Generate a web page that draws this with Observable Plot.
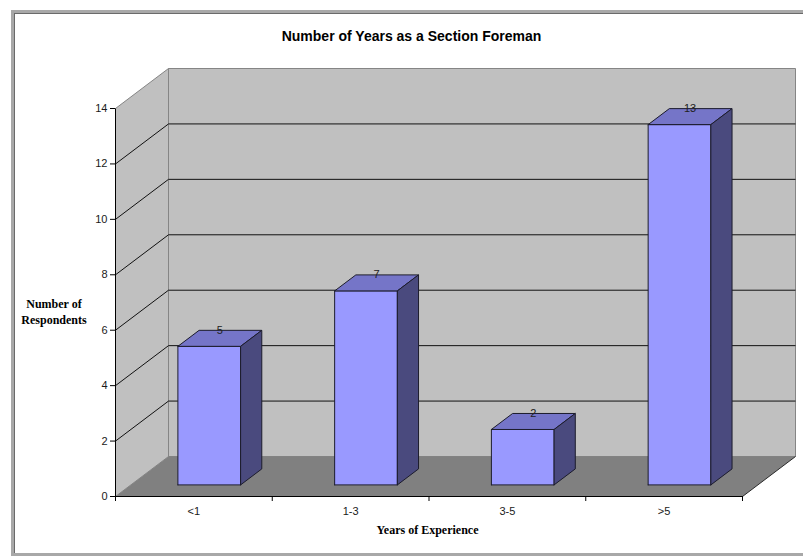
<!DOCTYPE html>
<html><head><meta charset="utf-8">
<script src="https://cdn.jsdelivr.net/npm/d3@7"></script>
<script src="https://cdn.jsdelivr.net/npm/@observablehq/plot@0.6"></script>
<style>
body{margin:0;background:#fff;}
#wrap{position:relative;width:803px;height:556px;overflow:hidden;}
#frame{position:absolute;left:11px;top:10px;width:820px;height:546px;box-sizing:border-box;border:3px solid #a8a8a8;box-shadow:inset 1px 1px 0 #6a6a6a;pointer-events:none;}
#chart{position:absolute;left:0;top:0;}
</style></head>
<body><div id="wrap"><div id="chart"></div><div id="frame"></div></div>
<script>
const categories = ["<1", "1-3", "3-5", ">5"];
const values = [5, 7, 2, 13];
const yTicks = [0, 2, 4, 6, 8, 10, 12, 14];
const title = "Number of Years as a Section Foreman";
const yTitle = ["Number of", "Respondents"];
const xTitle = "Years of Experience";

// layout / 3D projection constants
const W = 803, H = 556, mL = 115, mR = 61, mT = 108, mB = 60;
const yMax = 14;
const xpu = (W - mL - mR) / categories.length;
const ypu = (H - mT - mB) / yMax;
const DX = 53 / xpu, DY = 40 / ypu;     // full depth in data units
const D0 = 0.29, D1 = 0.69, BW = 0.4;   // bar depth and width
const P = (x, v, d) => ({x: x + d * DX, y: v + d * DY});
const nC = categories.length;

function polys(list) { // list of {id, pts}
  const out = [];
  list.forEach(({id, pts}) => { pts.concat([pts[0]]).forEach(p => out.push({...p, id})); });
  return out;
}

const backWall = polys([{id: "b", pts: [P(0,0,1), P(nC,0,1), P(nC,yMax,1), P(0,yMax,1)]}]);
const sideWall = polys([{id: "s", pts: [P(0,0,0), P(0,0,1), P(0,yMax,1), P(0,yMax,0)]}]);
const floor = polys([{id: "f", pts: [P(0,0,0), P(nC,0,0), P(nC,0,1), P(0,0,1)]}]);

const grid = yTicks.filter(v => v > 0 && v < yMax);
const backGrid = grid.map(v => ({a: P(0,v,1), b: P(nC,v,1)}));
const sideGrid = grid.map(v => ({a: P(0,v,0), b: P(0,v,1)}));

const fronts = [], tops = [], sides = [];
categories.forEach((c, i) => {
  const x0 = i + 0.5 - BW / 2, x1 = i + 0.5 + BW / 2, v = values[i];
  fronts.push({id: c, pts: [P(x0,0,D0), P(x1,0,D0), P(x1,v,D0), P(x0,v,D0)]});
  tops.push({id: c, pts: [P(x0,v,D0), P(x1,v,D0), P(x1,v,D1), P(x0,v,D1)]});
  sides.push({id: c, pts: [P(x1,0,D0), P(x1,0,D1), P(x1,v,D1), P(x1,v,D0)]});
});
const labels = categories.map((c, i) => ({
  x: P(i + 0.5, values[i], (D0 + D1) / 2).x,
  y: P(i + 0.5, values[i], D1).y,
  t: String(values[i])
}));

const poly = (data, fill, stroke, sw = 1) =>
  Plot.line(data, {x: "x", y: "y", z: "id", fill, stroke, strokeWidth: sw, curve: "linear", strokeLinejoin: "miter"});
const link = (data, stroke) =>
  Plot.link(data, {x1: d => d.a.x, y1: d => d.a.y, x2: d => d.b.x, y2: d => d.b.y, stroke, strokeWidth: 1});

const chart = Plot.plot({
  width: W, height: H,
  marginLeft: mL, marginRight: mR, marginTop: mT, marginBottom: mB,
  x: {type: "linear", domain: [0, nC]},
  y: {domain: [0, yMax]},
  style: {fontFamily: "'Liberation Sans', Arial, sans-serif", fontSize: "11px", color: "#1a1a1a", background: "transparent", overflow: "visible"},
  marks: [
    poly(backWall, "#c0c0c0", "#858585"),
    poly(sideWall, "#c0c0c0", "#858585"),
    poly(floor, "#808080", "none"),
    link([{a: P(nC,0,0), b: P(nC,0,1)}], "#2a2a2a"),
    link(backGrid, "#111"),
    link(sideGrid, "#111"),
    poly(polys(fronts), "#9999ff", "#1c1c2c"),
    poly(polys(tops), "#7575c8", "#1c1c2c"),
    poly(polys(sides), "#4a4a7e", "#1c1c2c"),
    Plot.text(labels, {x: "x", y: "y", text: "t", fontSize: 11, fill: "#222", lineAnchor: "middle"}),
    link([{a: P(0,0,0), b: P(nC,0,0)}, {a: P(0,0,0), b: P(0,yMax,0)}], "#000"),
    Plot.axisY({ticks: yTicks, tickSize: 5, tickPadding: 3, label: null, fontSize: 11, stroke: "#000"}),
    Plot.axisX({ticks: d3.range(nC + 1), tickSize: 5, tickFormat: () => "", label: null, stroke: "#000"}),
    Plot.axisX({ticks: categories.map((c, i) => i + 0.5), tickSize: 0, tickPadding: 11, tickFormat: (d) => categories[Math.floor(d)], label: null, fontSize: 11}),
    Plot.text([title], {frameAnchor: "top", dx: -17.5, dy: -72, fontSize: 14, fontWeight: "bold", fill: "#000", lineAnchor: "middle"}),
    Plot.text([yTitle.join("\n")], {frameAnchor: "left", dx: -61.5, dy: 8, fontSize: 12, fontWeight: "bold", fill: "#000", fontFamily: "'Liberation Serif', 'Times New Roman', serif", lineAnchor: "middle", textAnchor: "middle", lineHeight: 1.33}),
    Plot.text([xTitle], {frameAnchor: "bottom", dx: -1.5, dy: 34, fontSize: 12, fontWeight: "bold", fill: "#000", fontFamily: "'Liberation Serif', 'Times New Roman', serif", lineAnchor: "middle"})
  ]
});
document.getElementById("chart").appendChild(chart);
</script>
</body></html>
